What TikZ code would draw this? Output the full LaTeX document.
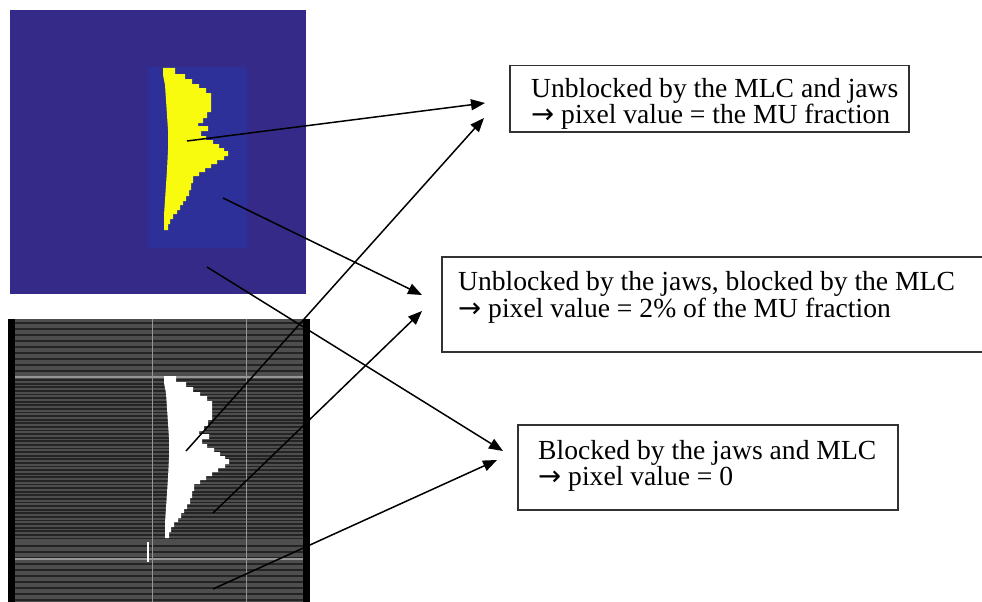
\documentclass[tikz,border=0pt]{standalone}
\usepackage{fontspec}
\setmainfont{Liberation Serif}
\newfontfamily\arrowfont{DejaVu Sans}
\usetikzlibrary{arrows.meta}
\definecolor{blueout}{RGB}{53,42,135}
\definecolor{bluein}{RGB}{44,48,152}
\definecolor{yellowc}{RGB}{249,251,14}
\definecolor{graybg}{RGB}{78,78,78}
\definecolor{graydk}{RGB}{36,36,36}
\definecolor{graylt}{RGB}{150,150,150}
\definecolor{boxline}{RGB}{50,50,50}
\newcommand\rarr{{\arrowfont →}}
\begin{document}
\begin{tikzpicture}[x=1pt,y=-1pt,
  infobox/.style={draw=boxline,line width=1.5pt,fill=white,rectangle,anchor=north west,inner sep=0pt},
  infotext/.style={anchor=base west,inner sep=0pt,align=left,font=\fontsize{27.6}{23.5}\selectfont},
  pointer/.style={draw=black,line width=1.5pt,-{Triangle[length=14pt,width=11pt]}},
  stripe/.style={draw=graydk,line width=2.4pt},
  stripethin/.style={draw=graydk,line width=1.8pt}]
\clip (0,0) rectangle (982,602);
\fill[white] (0,0) rectangle (982,602);
% top (blue) panel
\fill[blueout] (10,10) rectangle (306,294);
\fill[bluein] (148,67) rectangle (247,248);
% bottom (gray) panel
\fill[black] (8,319) rectangle (310,602);
\fill[graybg] (15,319) rectangle (303,602);
\foreach \yy in {323,329,...,375} \draw[stripe] (15,\yy) -- (303,\yy);
\foreach \yy in {380,383.6,...,542} \draw[stripethin] (15,\yy) -- (303,\yy);
\foreach \yy in {546,552,...,602} \draw[stripe] (15,\yy) -- (303,\yy);
\draw[graylt,line width=1.5pt] (15,377) -- (303,377);
\draw[graylt,line width=1.5pt] (15,559) -- (303,559);
\draw[graylt,line width=1pt] (152,319) -- (152,602);
\draw[graylt,line width=1pt] (246,319) -- (246,602);
\draw[white,line width=2pt] (148,542) -- (148,562);
% field shapes
\foreach \dx/\dy/\col in {0/0/yellowc,1/308/white}{
\fill[\col,shift={(\dx,\dy)}] (164,230) -- (164,215) -- (165,200) -- (166,185) -- (167,170) -- (168,150) -- (168,130) -- (167,115) -- (166,100) -- (165,85) -- (163,75) -- (163,68)
 -- (175,68) -- (175,74) -- (185,74) -- (185,79) -- (192,79) -- (192,84) -- (199,84) -- (199,88) -- (206,88) -- (206,93) -- (211,93) -- (211,112) -- (207,112) -- (207,118) -- (203,118) -- (203,123) -- (198,123) -- (198,126) -- (208,126) -- (208,131) -- (201,131) -- (201,136) -- (206,136) -- (206,140) -- (213,140) -- (213,144) -- (219,144) -- (219,148) -- (224,148) -- (224,151) -- (228,151) -- (228,156) -- (224,156) -- (224,160) -- (217,160) -- (217,164) -- (211,164) -- (211,168) -- (205,168) -- (205,172) -- (199,172) -- (199,176) -- (193,176) -- (193,183) -- (191,183) -- (191,190) -- (189,190) -- (189,196) -- (186,196) -- (186,201) -- (183,201) -- (183,205) -- (180,205) -- (180,210) -- (177,210) -- (177,214) -- (173,214) -- (173,219) -- (170,219) -- (170,224) -- (168,224) -- (168,230) -- cycle;
}
% boxes
\node[infobox,minimum width=399pt,minimum height=66pt] (b1) at (509,65) {};
\node[infobox,minimum width=560pt,minimum height=95pt] (b2) at (441,256) {};
\node[infobox,minimum width=380pt,minimum height=85pt] (b3) at (517,424) {};
\node[infotext] (t1) at (531,123.5) {Unblocked by the MLC and jaws\\\rarr\ pixel value = the MU fraction};
\node[infotext] (t2) at (458,317) {Unblocked by the jaws, blocked by the MLC\\\rarr\ pixel value = 2\% of the MU fraction};
\node[infotext] (t3) at (538,485.5) {Blocked by the jaws and MLC\\\rarr\ pixel value = 0};
% arrow anchor points
\coordinate (s1) at (187,141);
\coordinate (s2) at (186,451);
\coordinate (s3) at (223,198);
\coordinate (s4) at (213,513);
\coordinate (s5) at (207,267);
\coordinate (s6) at (213,589);
\coordinate (e1) at (485,103);
\coordinate (e2) at (484,118);
\coordinate (e3) at (422,295);
\coordinate (e4) at (422,311);
\coordinate (e5) at (503,451);
\coordinate (e6) at (497,460);
\draw[pointer] (s1) -- (e1);
\draw[pointer] (s2) -- (e2);
\draw[pointer] (s3) -- (e3);
\draw[pointer] (s4) -- (e4);
\draw[pointer] (s5) -- (e5);
\draw[pointer] (s6) -- (e6);
\end{tikzpicture}
\end{document}
